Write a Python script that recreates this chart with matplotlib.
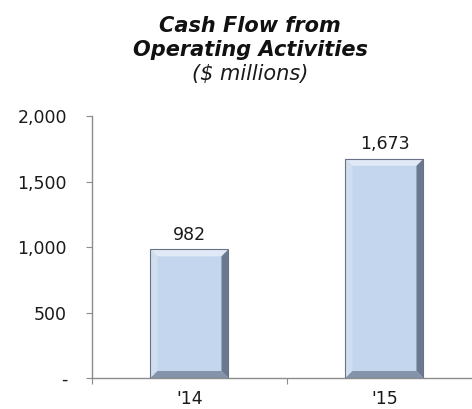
import matplotlib
matplotlib.use("Agg")
import matplotlib.pyplot as plt
from matplotlib.patches import Polygon

# Data
years = ["'14", "'15"]
cash_flow = [982, 1673]
y_ticks = [0, 500, 1000, 1500, 2000]
y_tick_labels = ["-", "500", "1,000", "1,500", "2,000"]

W, H, DPI = 472, 409, 100
fig = plt.figure(figsize=(W / DPI, H / DPI), dpi=DPI)
fig.patch.set_facecolor("white")

ax = fig.add_axes([92 / W, 1 - 378 / H, 1 - 92 / W, (378 - 116) / H])
ax.set_xlim(-0.5, 1.449)
ax.set_ylim(0, 2000)

axis_col = "#8c8c8c"
text_col = "#1a1a1a"
face = "#c4d6ee"
fs = 12.5

x = list(range(len(years)))
bar_w = 0.4
bars = ax.bar(x, cash_flow, width=bar_w, color=face, edgecolor="none", zorder=2)

# Bevel sizes converted from pixels to data units
fig.canvas.draw()
px_x = (ax.get_xlim()[1] - ax.get_xlim()[0]) / ax.get_window_extent().width
px_y = (ax.get_ylim()[1] - ax.get_ylim()[0]) / ax.get_window_extent().height
bx, by = 7 * px_x, 7 * px_y

for rect, val in zip(bars, cash_flow):
    x0 = rect.get_x()
    x1 = x0 + rect.get_width()
    y0, y1 = 0, val
    # top bevel (light)
    ax.add_patch(Polygon([(x0, y1), (x1, y1), (x1 - bx, y1 - by), (x0 + bx, y1 - by)],
                         closed=True, facecolor="#e0e9f5", edgecolor="none", zorder=3))
    # left bevel (light)
    ax.add_patch(Polygon([(x0, y0), (x0, y1), (x0 + bx, y1 - by), (x0 + bx, y0 + by)],
                         closed=True, facecolor="#d0def0", edgecolor="none", zorder=3))
    # right bevel (dark)
    ax.add_patch(Polygon([(x1, y0), (x1, y1), (x1 - bx, y1 - by), (x1 - bx, y0 + by)],
                         closed=True, facecolor="#6b7990", edgecolor="none", zorder=3))
    # bottom bevel (mid dark)
    ax.add_patch(Polygon([(x0, y0), (x1, y0), (x1 - bx, y0 + by), (x0 + bx, y0 + by)],
                         closed=True, facecolor="#8593aa", edgecolor="none", zorder=3))
    # thin outline
    ax.add_patch(Polygon([(x0, y0), (x0, y1), (x1, y1), (x1, y0)], closed=True,
                         facecolor="none", edgecolor="#6a7384", linewidth=0.8, zorder=4))
    ax.annotate(f"{val:,}", (rect.get_x() + rect.get_width() / 2, val),
                xytext=(0, 4), textcoords="offset points", ha="center", va="bottom",
                fontsize=fs, color=text_col)

# Axes styling
for side in ("top", "right"):
    ax.spines[side].set_visible(False)
for side in ("left", "bottom"):
    ax.spines[side].set_color(axis_col)
    ax.spines[side].set_linewidth(1.0)

ax.set_yticks(y_ticks)
ax.set_yticklabels(y_tick_labels)
ax.tick_params(axis="y", direction="out", length=4, color=axis_col, labelsize=fs,
               labelcolor=text_col, pad=14)

ax.set_xticks([-0.5, 0.5])
ax.set_xticklabels([])
ax.set_xticks(x, minor=True)
ax.set_xticklabels(years, minor=True)
ax.tick_params(axis="x", which="major", direction="out", length=4, color=axis_col)
ax.tick_params(axis="x", which="minor", length=0, labelsize=fs, labelcolor=text_col, pad=9)

# Title
fig.text(250 / W, 1 - 26 / H, "Cash Flow from", ha="center", va="center",
         fontsize=15, fontweight="bold", fontstyle="italic", color="#111111")
fig.text(250 / W, 1 - 50 / H, "Operating Activities", ha="center", va="center",
         fontsize=15, fontweight="bold", fontstyle="italic", color="#111111")
fig.text(250 / W, 1 - 74 / H, "($ millions)", ha="center", va="center",
         fontsize=15, fontstyle="italic", color=text_col)

fig.savefig("out.png", dpi=DPI, facecolor="white")
